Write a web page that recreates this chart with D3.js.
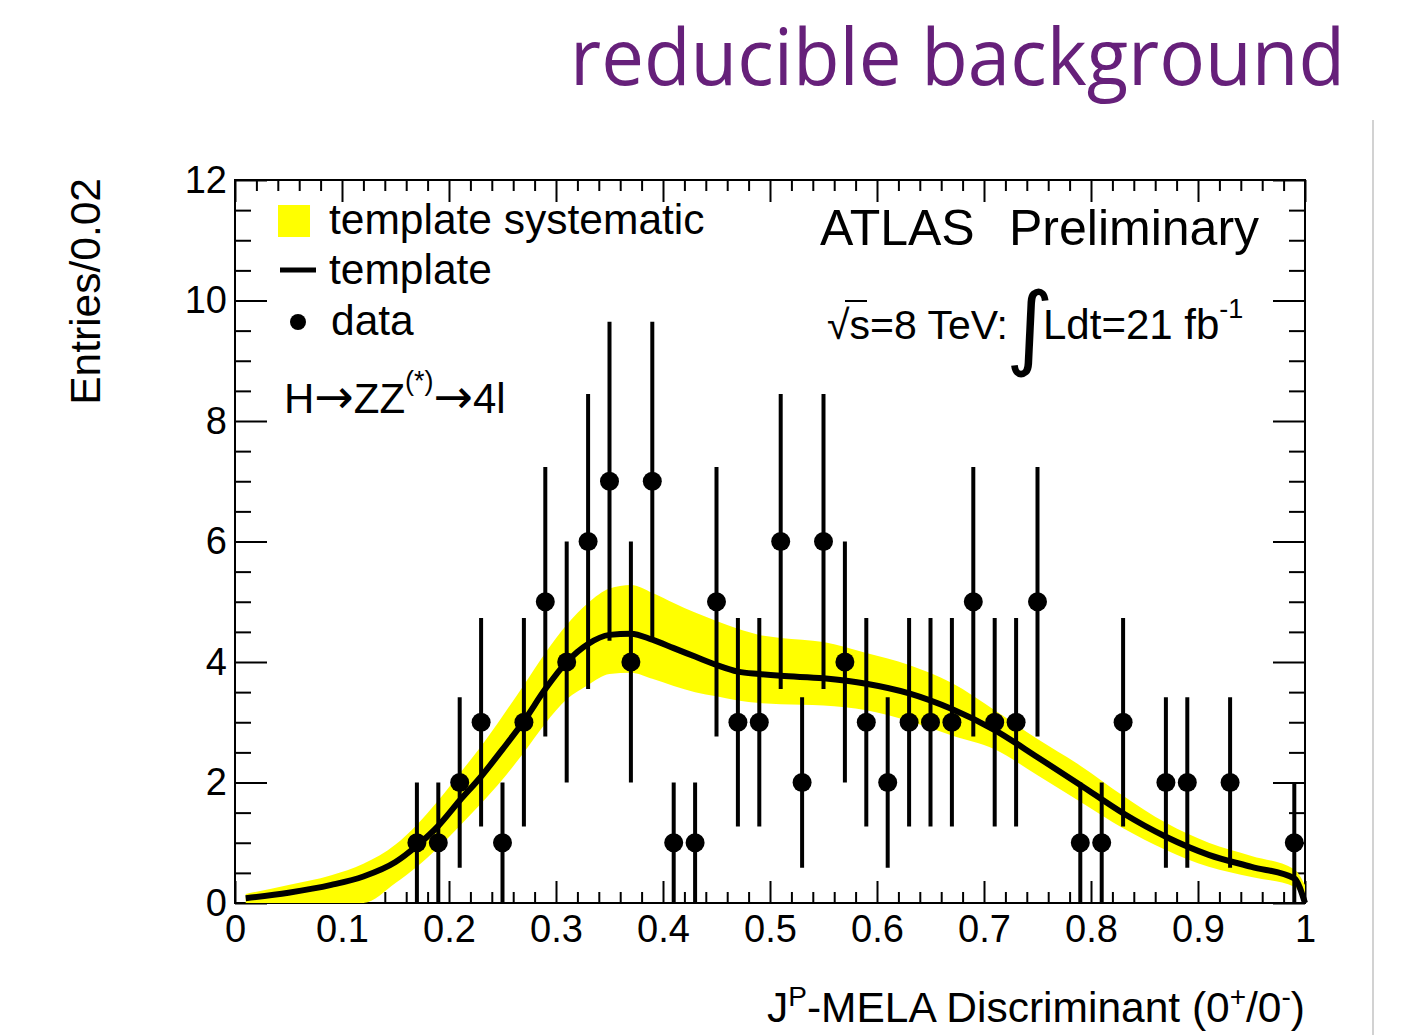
<!DOCTYPE html>
<html>
<head>
<meta charset="utf-8">
<script src="https://cdn.jsdelivr.net/npm/d3@7"></script>
<style>
  html, body { margin: 0; padding: 0; background: #fff; }
  svg text { font-family: "Liberation Sans", Arial, Helvetica, sans-serif; fill: #000; }
</style>
</head>
<body>
<svg id="chart" width="1409" height="1035"></svg>
<script>
// Observed events per 0.02 bin (bin centres and counts)
const binCenters = [0.17,0.19,0.21,0.23,0.25,0.27,0.29,0.31,0.33,0.35,0.37,0.39,0.41,0.43,0.45,0.47,0.49,0.51,0.53,0.55,0.57,0.59,0.61,0.63,0.65,0.67,0.69,0.71,0.73,0.75,0.79,0.81,0.83,0.87,0.89,0.93,0.99];
const counts     = [1,1,2,3,1,3,5,4,6,7,4,7,1,1,5,3,3,6,2,6,4,3,2,3,3,3,5,3,3,5,1,1,3,2,2,2,1];

// Reducible-background template and its systematic envelope
const templateX = [0.01,0.05,0.09,0.12,0.15,0.17,0.19,0.21,0.23,0.25,0.27,0.29,0.31,0.33,0.35,0.37,0.39,0.41,0.43,0.45,0.47,0.49,0.51,0.55,0.59,0.63,0.67,0.71,0.75,0.79,0.83,0.87,0.91,0.95,0.99,1.0];
const templateY = [0.08,0.17,0.30,0.44,0.68,0.95,1.28,1.7,2.1,2.55,3.02,3.55,4.0,4.3,4.45,4.47,4.37,4.23,4.09,3.95,3.84,3.8,3.77,3.73,3.64,3.48,3.22,2.87,2.42,1.96,1.49,1.1,0.8,0.6,0.41,0.0];
const bandLow   = [0,0,0,0,0.33,0.6,0.92,1.28,1.65,2.05,2.5,2.98,3.38,3.62,3.8,3.82,3.72,3.6,3.5,3.43,3.36,3.32,3.3,3.28,3.2,3.02,2.78,2.55,2.12,1.68,1.24,0.88,0.6,0.43,0.27,0.0];
const bandHigh  = [0.15,0.3,0.46,0.65,0.97,1.3,1.7,2.15,2.6,3.1,3.62,4.15,4.62,4.98,5.22,5.28,5.15,4.98,4.82,4.68,4.55,4.45,4.4,4.33,4.15,3.95,3.65,3.2,2.72,2.28,1.78,1.33,1.0,0.78,0.56,0.3];

// Axis ticks
const xTickValues = [0,0.1,0.2,0.3,0.4,0.5,0.6,0.7,0.8,0.9,1];
const xTickLabels = ["0","0.1","0.2","0.3","0.4","0.5","0.6","0.7","0.8","0.9","1"];
const yTickValues = [0,2,4,6,8,10,12];
const yTickLabels = ["0","2","4","6","8","10","12"];

const svg = d3.select("#chart");
const L = 235, R = 1305, T = 180, B = 903;
const x = d3.scaleLinear().domain([0, 1]).range([L, R]);
const y = d3.scaleLinear().domain([0, 12]).range([B, T]);

const ARROW_FONT = "'DejaVu Sans', sans-serif";

// Page heading
svg.append("text")
  .attr("x", 570).attr("y", 85)
  .attr("textLength", 775).attr("lengthAdjust", "spacingAndGlyphs")
  .style("font-family", "'Open Sans', 'Noto Sans', sans-serif")
  .style("font-size", "79px")
  .style("fill", "#66207a")
  .text("reducible background");

// Slide separator at the right
svg.append("line")
  .attr("x1", 1373).attr("x2", 1373).attr("y1", 120).attr("y2", 1035)
  .attr("stroke", "#d2d2d2").attr("stroke-width", 2);

// Minor tick positions
const xMinor = d3.range(0, 51).map(i => i / 50).filter(v => Math.round(v * 50) % 5 !== 0);
const yMinor = d3.range(0, 25).map(i => i / 2).filter(v => v % 2 !== 0);

function styleAxis(g) {
  g.select(".domain").remove();
  g.selectAll("line").attr("stroke", "#000").attr("stroke-width", 2);
  g.selectAll("text").style("font-size", "38px").style("font-family", "'Liberation Sans', Arial, sans-serif").attr("fill", "#000");
}

// Bottom axis
svg.append("g").attr("transform", `translate(0,${B})`)
  .call(d3.axisBottom(x).tickValues(xTickValues).tickSize(-22).tickPadding(12)
    .tickFormat((d, i) => xTickLabels[i]))
  .call(styleAxis);
svg.append("g").attr("transform", `translate(0,${B})`)
  .call(d3.axisBottom(x).tickValues(xMinor).tickSize(-11).tickFormat(""))
  .call(styleAxis);
// Top axis
svg.append("g").attr("transform", `translate(0,${T})`)
  .call(d3.axisTop(x).tickValues(xTickValues).tickSize(-22).tickFormat(""))
  .call(styleAxis);
svg.append("g").attr("transform", `translate(0,${T})`)
  .call(d3.axisTop(x).tickValues(xMinor).tickSize(-11).tickFormat(""))
  .call(styleAxis);
// Left axis
svg.append("g").attr("transform", `translate(${L},0)`)
  .call(d3.axisLeft(y).tickValues(yTickValues).tickSize(-32).tickPadding(8)
    .tickFormat((d, i) => yTickLabels[i]))
  .call(styleAxis);
svg.append("g").attr("transform", `translate(${L},0)`)
  .call(d3.axisLeft(y).tickValues(yMinor).tickSize(-16).tickFormat(""))
  .call(styleAxis);
// Right axis
svg.append("g").attr("transform", `translate(${R},0)`)
  .call(d3.axisRight(y).tickValues(yTickValues).tickSize(-32).tickFormat(""))
  .call(styleAxis);
svg.append("g").attr("transform", `translate(${R},0)`)
  .call(d3.axisRight(y).tickValues(yMinor).tickSize(-16).tickFormat(""))
  .call(styleAxis);

// Frame
svg.append("rect")
  .attr("x", L).attr("y", T).attr("width", R - L).attr("height", B - T)
  .attr("fill", "none").attr("stroke", "#000").attr("stroke-width", 2);

// Systematic band
const tpl = templateX.map((v, i) => ({ x: v, y: templateY[i], lo: bandLow[i], hi: bandHigh[i] }));
svg.append("path").datum(tpl)
  .attr("fill", "#ffff00")
  .attr("d", d3.area().curve(d3.curveMonotoneX)
    .x(d => x(d.x)).y0(d => y(d.lo)).y1(d => y(d.hi)));

// Template line
svg.append("path").datum(tpl)
  .attr("fill", "none").attr("stroke", "#000").attr("stroke-width", 6)
  .attr("d", d3.line().curve(d3.curveMonotoneX).x(d => x(d.x)).y(d => y(d.y)));

// Data with sqrt(N) error bars
const data = binCenters.map((c, i) => ({ x: c, n: counts[i] }));
svg.append("g").selectAll("line").data(data).join("line")
  .attr("x1", d => x(d.x)).attr("x2", d => x(d.x))
  .attr("y1", d => y(Math.max(0, d.n - Math.sqrt(d.n))))
  .attr("y2", d => y(d.n + Math.sqrt(d.n)))
  .attr("stroke", "#000").attr("stroke-width", 4);
svg.append("g").selectAll("circle").data(data).join("circle")
  .attr("cx", d => x(d.x)).attr("cy", d => y(d.n)).attr("r", 9.5)
  .attr("fill", "#000");

// Axis titles
svg.append("text")
  .attr("transform", "translate(100,178) rotate(-90)")
  .attr("text-anchor", "end")
  .style("font-size", "42.5px")
  .text("Entries/0.02");

const xt = svg.append("text")
  .attr("x", 1305).attr("y", 1022).attr("text-anchor", "end")
  .style("font-size", "42.5px");
xt.append("tspan").text("J");
xt.append("tspan").attr("dy", -16).style("font-size", "28px").text("P");
xt.append("tspan").attr("dy", 16).text("-MELA Discriminant (0");
xt.append("tspan").attr("dy", -16).style("font-size", "28px").text("+");
xt.append("tspan").attr("dy", 16).text("/0");
xt.append("tspan").attr("dy", -16).style("font-size", "28px").text("-");
xt.append("tspan").attr("dy", 16).text(")");

// Legend
svg.append("rect").attr("x", 278).attr("y", 205).attr("width", 32).attr("height", 32).attr("fill", "#ffff00");
svg.append("text").attr("x", 329).attr("y", 234).style("font-size", "42.5px").text("template systematic");
svg.append("line").attr("x1", 280).attr("x2", 316).attr("y1", 270).attr("y2", 270)
  .attr("stroke", "#000").attr("stroke-width", 5);
svg.append("text").attr("x", 329).attr("y", 284).style("font-size", "42.5px").text("template");
svg.append("circle").attr("cx", 298).attr("cy", 322).attr("r", 8).attr("fill", "#000");
svg.append("text").attr("x", 331).attr("y", 335).style("font-size", "42.5px").text("data");

// Process label
const proc = svg.append("text").attr("x", 284).attr("y", 413).style("font-size", "42px");
proc.append("tspan").text("H");
proc.append("tspan").style("font-family", ARROW_FONT).style("font-size", "47px").text("\u2192");
proc.append("tspan").text("ZZ");
proc.append("tspan").attr("dy", -23).style("font-size", "27px").text("(*)");
proc.append("tspan").attr("dy", 23).style("font-family", ARROW_FONT).style("font-size", "47px").text("\u2192");
proc.append("tspan").text("4l");

// Experiment labels
svg.append("text").attr("x", 820).attr("y", 245).style("font-size", "50px").text("ATLAS");
svg.append("text").attr("x", 1009).attr("y", 245).style("font-size", "50px").text("Preliminary");

const lumi = svg.append("text").attr("x", 827).attr("y", 339).style("font-size", "41px");
lumi.append("tspan").text("\u221As=8 TeV:");
svg.append("line").attr("x1", 845).attr("x2", 867).attr("y1", 301).attr("y2", 301)
  .attr("stroke", "#000").attr("stroke-width", 2);
svg.append("text").attr("x", 1006).attr("y", 358)
  .style("font-family", "'DejaVu Sans', sans-serif").style("font-size", "92px").text("\u222B");
const lumi2 = svg.append("text").attr("x", 1043).attr("y", 339).style("font-size", "42px");
lumi2.append("tspan").text("Ldt=21 fb");
lumi2.append("tspan").attr("dy", -21).style("font-size", "27px").text("-1");
</script>
</body>
</html>
